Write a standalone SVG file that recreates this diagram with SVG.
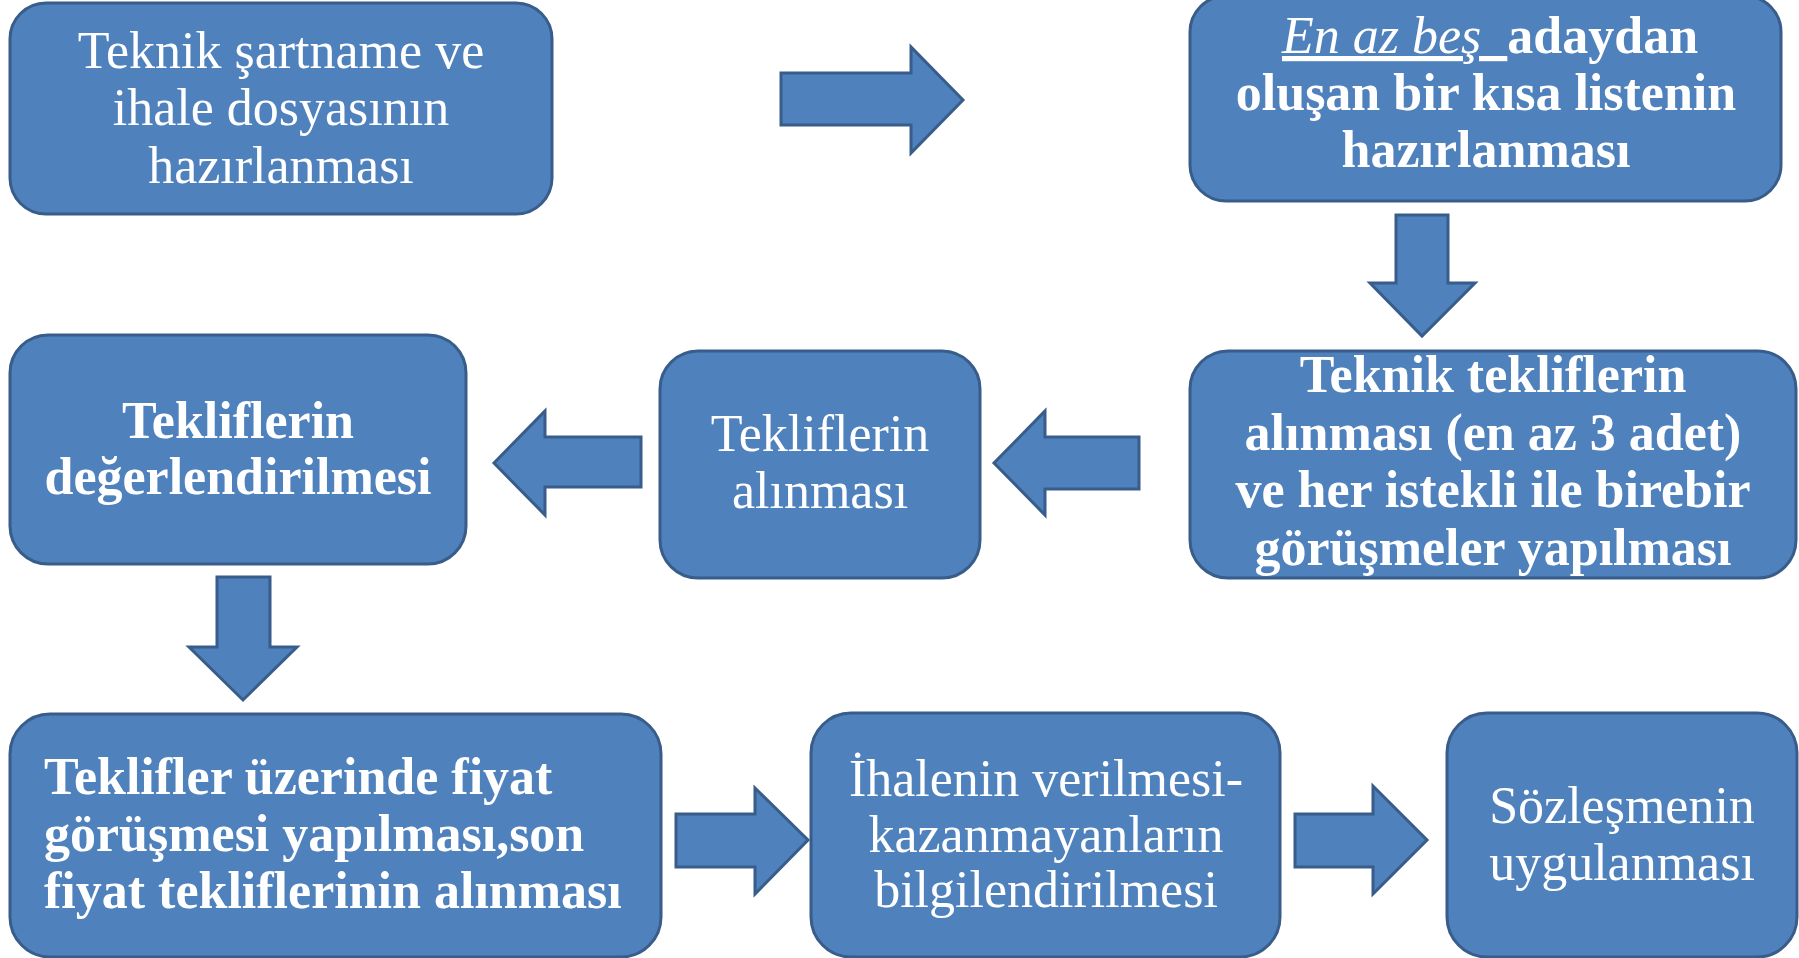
<svg xmlns="http://www.w3.org/2000/svg" width="1799" height="958" viewBox="0 0 1799 958">
<style>
.box{fill:#4F81BD;stroke:#385D8A;stroke-width:3}
.arr{fill:#4F81BD;stroke:#385D8A;stroke-width:3;stroke-linejoin:miter}
text{font-family:"Liberation Serif","Times New Roman",serif;font-size:52px;fill:#FFFFFF}
.c{text-anchor:middle}
.b{font-weight:bold}
</style>
<rect width="1799" height="958" fill="#FFFFFF"/>
<g id="connectors">
<polygon class="arr" points="781,73 911,73 911,47 963,100 911,153 911,125 781,125"/>
<polygon class="arr" points="1396,215 1448,215 1448,283 1475,283 1422,336 1370,283 1396,283"/>
<polygon class="arr" points="1139,437 1045,437 1045,411 994,463 1045,515 1045,489 1139,489"/>
<polygon class="arr" points="641,437 545,437 545,411 494,463 545,515 545,487 641,487"/>
<polygon class="arr" points="217,577 270,577 270,647 297,647 243,700 189,647 217,647"/>
<polygon class="arr" points="676,814 755,814 755,788 808,840 755,894 755,867 676,867"/>
<polygon class="arr" points="1295,814 1373,814 1373,786 1427,840 1373,894 1373,867 1295,867"/>
</g>
<g id="n1">
<rect class="box" x="10" y="3" width="542" height="211" rx="36"/>
<text class="c" x="281" y="68">Teknik şartname ve</text>
<text class="c" x="281" y="125">ihale dosyasının</text>
<text class="c" x="281" y="183">hazırlanması</text>
</g>
<g id="n2">
<rect class="box" x="1190" y="-4" width="591" height="205" rx="36"/>
<text x="1282" y="53"><tspan font-style="italic" text-decoration="underline" xml:space="preserve">En az beş  </tspan><tspan class="b">adaydan</tspan></text>
<text class="c b" x="1486" y="110">oluşan bir kısa listenin</text>
<text class="c b" x="1486" y="167">hazırlanması</text>
</g>
<g id="n3">
<rect class="box" x="1190" y="351" width="606" height="227" rx="38"/>
<text class="c b" x="1493" y="392">Teknik tekliflerin</text>
<text class="c b" x="1493" y="450">alınması (en az 3 adet)</text>
<text class="c b" x="1493" y="507">ve her istekli ile birebir</text>
<text class="c b" x="1493" y="565">görüşmeler yapılması</text>
</g>
<g id="n4">
<rect class="box" x="660" y="351" width="320" height="227" rx="38"/>
<text class="c" x="820" y="451">Tekliflerin</text>
<text class="c" x="820" y="508">alınması</text>
</g>
<g id="n5">
<rect class="box" x="10" y="335" width="456" height="229" rx="38"/>
<text class="c b" x="238" y="438">Tekliflerin</text>
<text class="c b" x="238" y="494">değerlendirilmesi</text>
</g>
<g id="n6">
<rect class="box" x="10" y="714" width="651" height="243" rx="40"/>
<text class="b" x="44" y="794">Teklifler üzerinde fiyat</text>
<text class="b" x="44" y="851">görüşmesi yapılması,son</text>
<text class="b" x="44" y="908">fiyat tekliflerinin alınması</text>
</g>
<g id="n7">
<rect class="box" x="811" y="713" width="469" height="244" rx="40"/>
<text class="c" x="1046" y="796">İhalenin verilmesi-</text>
<text class="c" x="1046" y="852">kazanmayanların</text>
<text class="c" x="1046" y="907">bilgilendirilmesi</text>
</g>
<g id="n8">
<rect class="box" x="1447" y="713" width="350" height="244" rx="40"/>
<text class="c" x="1622" y="823">Sözleşmenin</text>
<text class="c" x="1622" y="880">uygulanması</text>
</g>
</svg>
